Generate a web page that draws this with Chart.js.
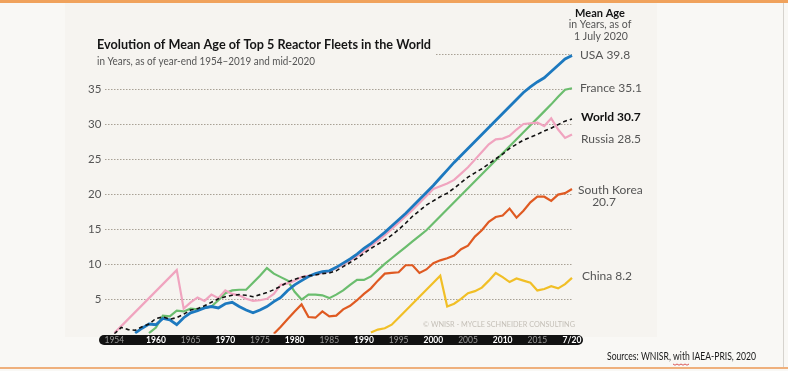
<!DOCTYPE html>
<html lang="en">
<head>
<meta charset="UTF-8">
<title>Evolution of Mean Age of Top 5 Reactor Fleets</title>
<script src="https://cdn.jsdelivr.net/npm/chart.js"></script>
<style>
  body { margin: 0; background: #f9f8f5; }
  #wrap { position: relative; width: 788px; height: 371px; overflow: hidden; }
  .topbar { position: absolute; left: 0; top: 0; width: 788px; height: 3px; background: #f0a25c; }
  .panel { position: absolute; left: 65px; top: 3px; width: 592px; height: 334px; background: #f6f4f0; }
  .rline { position: absolute; left: 783px; top: 3px; width: 1px; height: 364px; background: #d6d3ce; }
  .botline { position: absolute; left: 0; top: 367px; width: 788px; height: 2px; background: #efb07c; }
  canvas { position: absolute; left: 0; top: 0; }
</style>
</head>
<body>
<div id="wrap">
  <div class="topbar"></div>
  <div class="panel"></div>
  <div class="rline"></div>
  <div class="botline"></div>
  <canvas id="chart" width="788" height="371"></canvas>
</div>
<script>
// years, year-end 1954-2019 plus mid-2020
const years = ['1954','1955','1956','1957','1958','1959','1960','1961','1962','1963',
  '1964','1965','1966','1967','1968','1969','1970','1971','1972','1973',
  '1974','1975','1976','1977','1978','1979','1980','1981','1982','1983',
  '1984','1985','1986','1987','1988','1989','1990','1991','1992','1993',
  '1994','1995','1996','1997','1998','1999','2000','2001','2002','2003',
  '2004','2005','2006','2007','2008','2009','2010','2011','2012','2013',
  '2014','2015','2016','2017','2018','2019','7/20'];

const shownYears = ['1954','1960','1965','1970','1975','1980','1985','1990','1995','2000','2005','2010','2015','7/20'];
const boldYears = ['1960','1970','1980','1990','2000','2010','7/20'];
const yTicks = [5, 10, 15, 20, 25, 30, 35];

const world = [0.0,0.9,0.6,0.5,1.0,1.4,2.2,2.4,2.1,2.3,
  2.8,3.4,3.6,4.0,4.5,5.0,5.3,5.5,5.6,5.5,
  5.3,5.6,5.9,6.3,6.8,7.4,7.8,8.1,8.3,8.4,
  8.6,8.7,9.0,9.6,10.2,10.8,11.5,12.2,12.8,13.4,
  14.1,14.9,15.8,16.8,17.6,18.4,19.0,19.6,20.1,20.8,
  21.6,22.4,23.0,23.6,24.3,25.0,25.7,26.5,27.1,27.7,
  28.1,28.5,29.0,29.4,29.9,30.4,30.7];

const usa = [null,null,null,0.1,0.8,1.4,1.3,2.2,2.0,1.3,
  2.3,3.0,3.3,3.7,3.9,3.7,4.3,4.5,3.9,3.4,
  3.0,3.4,3.9,4.6,5.2,6.2,7.0,7.6,8.2,8.6,
  8.9,9.0,9.5,10.1,10.7,11.4,12.2,12.9,13.7,14.5,
  15.4,16.3,17.2,18.2,19.2,20.2,21.2,22.3,23.4,24.5,
  25.5,26.5,27.5,28.5,29.5,30.5,31.5,32.5,33.5,34.5,
  35.3,36.0,36.6,37.5,38.4,39.3,39.8];

const russia = [0.1,1.1,2.1,3.1,4.1,5.1,6.1,7.1,8.1,9.1,
  3.6,4.5,5.2,4.7,5.6,5.1,6.2,5.7,5.5,5.0,
  4.7,4.8,5.0,5.7,7.0,7.2,7.6,8.1,8.3,8.5,
  8.7,8.9,9.4,9.9,10.5,11.1,11.8,12.6,13.3,14.1,
  15.0,15.9,16.8,17.7,18.7,19.7,20.7,21.1,21.5,22.0,
  22.9,23.8,24.9,26.0,27.1,27.8,27.9,28.3,29.2,30.0,
  30.1,30.2,29.7,30.8,29.2,28.0,28.5];

const france = [null,null,null,null,null,0.1,0.9,2.6,2.5,3.3,
  3.2,3.6,3.5,3.7,3.9,4.8,5.8,6.2,6.3,6.3,
  7.3,8.3,9.4,8.6,8.1,7.6,6.0,4.9,5.6,5.6,
  5.5,5.1,5.6,6.2,7.0,7.7,7.7,8.2,9.1,10.0,
  10.8,11.6,12.4,13.2,14.0,14.8,15.8,16.8,17.8,18.8,
  19.8,20.8,21.8,22.8,23.8,24.8,25.8,26.8,27.8,28.8,
  29.8,30.8,31.8,32.8,33.9,34.9,35.1];

const southKorea = [null,null,null,null,null,null,null,null,null,null,
  null,null,null,null,null,null,null,null,null,null,
  null,null,null,0.0,1.0,2.1,3.2,4.2,2.4,2.3,
  3.2,2.5,2.6,3.5,4.0,4.8,5.7,6.5,7.6,8.6,
  8.7,8.8,9.8,9.8,8.7,9.2,10.1,10.5,10.8,11.2,
  12.1,12.6,13.9,14.8,16.0,16.7,16.9,17.9,16.6,17.6,
  18.8,19.6,19.6,19.0,19.9,20.1,20.7];

const china = [null,null,null,null,null,null,null,null,null,null,
  null,null,null,null,null,null,null,null,null,null,
  null,null,null,null,null,null,null,null,null,null,
  null,null,null,null,null,null,null,0.2,0.6,0.8,
  1.3,2.3,3.3,4.3,5.3,6.3,7.3,8.3,3.9,4.3,
  5.0,5.8,6.1,6.6,7.6,8.7,8.1,7.4,7.9,7.6,
  7.3,6.2,6.4,6.8,6.5,7.1,8.0];

const FONT = 'Lato, "Open Sans", sans-serif';

// band under the x axis, dotted grid lines and all the text around the plot
const decor = {
  id: 'decor',
  beforeDraw(chart) {
    const ctx = chart.ctx;
    ctx.save();
    ctx.fillStyle = '#121212';
    ctx.beginPath();
    ctx.roundRect(99, 335, 484, 10, 5);
    ctx.fill();
    ctx.restore();
  },
  beforeDatasetsDraw(chart) {
    const ctx = chart.ctx;
    const ys = chart.scales.y;
    const right = chart.chartArea.right;
    ctx.save();
    ctx.strokeStyle = '#a8a195';
    ctx.lineWidth = 1;
    ctx.setLineDash([1.5, 1.5]);
    for (const v of yTicks) {
      const y = Math.round(ys.getPixelForValue(v)) + 0.5;
      ctx.beginPath();
      ctx.moveTo(105, y);
      ctx.lineTo(right, y);
      ctx.stroke();
    }
    // the top line at 40 only runs clear of the subtitle
    const y40 = Math.round(ys.getPixelForValue(40)) + 0.5;
    ctx.beginPath();
    ctx.moveTo(436, y40);
    ctx.lineTo(right, y40);
    ctx.stroke();
    ctx.restore();
  },
  afterDraw(chart) {
    const ctx = chart.ctx;
    ctx.save();
    ctx.textBaseline = 'middle';

    // title
    ctx.fillStyle = '#151515';
    ctx.font = 'bold 14px ' + FONT;
    ctx.fillText('Evolution of Mean Age of Top 5 Reactor Fleets in the World', 97, 44, 334);
    ctx.fillStyle = '#555';
    ctx.font = '10.5px ' + FONT;
    ctx.fillText('in Years, as of year-end 1954\u20132019 and mid-2020', 97, 62, 218);

    // right hand labels
    ctx.textAlign = 'center';
    ctx.fillStyle = '#151515';
    ctx.font = 'bold 11px ' + FONT;
    ctx.fillText('Mean Age', 600, 13);
    ctx.fillStyle = '#555';
    ctx.font = '10.5px ' + FONT;
    ctx.fillText('in Years, as of', 600, 25);
    ctx.fillText('1 July 2020', 601, 37);

    ctx.textAlign = 'left';
    ctx.font = '12px ' + FONT;
    ctx.fillText('USA 39.8', 580, 55);
    ctx.fillText('France 35.1', 580, 88);
    ctx.fillText('Russia 28.5', 581, 139);
    ctx.fillText('South Korea', 578, 190);
    ctx.fillText('China 8.2', 582, 276);
    ctx.textAlign = 'center';
    ctx.fillText('20.7', 604, 202);
    ctx.textAlign = 'left';
    ctx.fillStyle = '#111';
    ctx.font = 'bold 12px ' + FONT;
    ctx.fillText('World 30.7', 581, 117);

    // watermark
    ctx.fillStyle = '#c4bfb7';
    ctx.font = '7.5px ' + FONT;
    ctx.fillText('\u00A9 WNISR - MYCLE SCHNEIDER CONSULTING', 423, 325, 152);

    // sources
    ctx.fillStyle = '#1a1a1a';
    ctx.font = '10.5px ' + FONT;
    ctx.fillText('Sources: WNISR, with IAEA-PRIS, 2020', 607, 357, 149);
    // spell-check squiggle under "with"
    ctx.strokeStyle = '#d03030';
    ctx.lineWidth = 0.8;
    ctx.beginPath();
    for (let x = 673; x <= 690; x += 2) {
      ctx.lineTo(x, 364 + ((x - 673) % 4 === 0 ? 0 : 1.2));
    }
    ctx.stroke();
    ctx.restore();
  }
};

function line(label, data, color, width, dash) {
  return {
    label: label,
    data: data,
    borderColor: color,
    backgroundColor: color,
    borderWidth: width,
    borderDash: dash || [],
    pointRadius: 0,
    tension: 0,
    fill: false,
    spanGaps: false
  };
}

new Chart(document.getElementById('chart'), {
  type: 'line',
  data: {
    labels: years,
    datasets: [
      line('World', world, '#111111', 1.6, [4, 3]),
      line('USA', usa, '#1d79bf', 2.8),
      line('Russia', russia, '#f0a4bf', 2.2),
      line('France', france, '#6bbd6e', 2.2),
      line('South Korea', southKorea, '#df5a22', 2.2),
      line('China', china, '#f1bf26', 2.2)
    ]
  },
  options: {
    responsive: false,
    animation: false,
    layout: { padding: { left: 75, right: 216, top: 54, bottom: 24 } },
    plugins: {
      legend: { display: false },
      tooltip: { enabled: false }
    },
    scales: {
      x: {
        type: 'category',
        offset: false,
        grid: { display: false, drawTicks: false },
        border: { display: false },
        ticks: {
          autoSkip: false,
          maxRotation: 0,
          padding: 1.5,
          callback: function (value) {
            const lab = years[value];
            return shownYears.includes(lab) ? lab : '';
          },
          color: function (ctx) {
            return boldYears.includes(years[ctx.index]) ? '#ffffff' : '#9a9a9a';
          },
          font: function (ctx) {
            const bold = boldYears.includes(years[ctx.index]);
            return { family: FONT, size: 8.5, weight: bold ? 'bold' : 'normal' };
          }
        }
      },
      y: {
        min: 0,
        max: 40,
        afterBuildTicks: function (axis) {
          axis.ticks = yTicks.map(v => ({ value: v }));
        },
        grid: { display: false, drawTicks: false },
        border: { display: false },
        ticks: {
          padding: 13,
          color: '#555',
          font: { family: FONT, size: 11.5 }
        }
      }
    }
  },
  plugins: [decor]
});
</script>
</body>
</html>
